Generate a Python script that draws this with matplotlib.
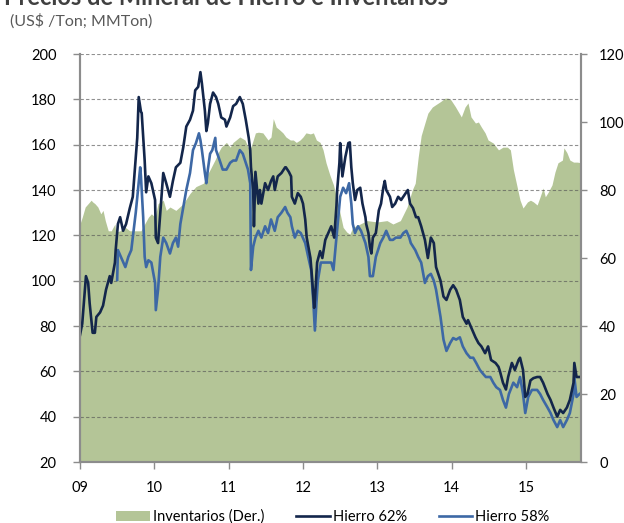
import matplotlib
matplotlib.use("Agg")
import matplotlib.pyplot as plt
from matplotlib.patches import Patch
from matplotlib.lines import Line2D
import numpy as np

plt.rcParams["font.family"] = ["Lato", "DejaVu Sans"]

# fractional years
hierro62_x = [2009.00, 2009.03, 2009.08, 2009.11, 2009.13, 2009.17, 2009.20, 2009.22, 2009.27, 2009.31,
              2009.35, 2009.40, 2009.42, 2009.47, 2009.48, 2009.51, 2009.54, 2009.58, 2009.62, 2009.67,
              2009.71, 2009.74, 2009.77, 2009.79, 2009.82, 2009.83, 2009.87, 2009.89, 2009.92, 2009.96,
              2010.01, 2010.02, 2010.05, 2010.09, 2010.12, 2010.16, 2010.21, 2010.25, 2010.29, 2010.35,
              2010.39, 2010.43, 2010.48, 2010.52, 2010.55, 2010.59, 2010.62, 2010.64, 2010.68, 2010.70,
              2010.72, 2010.75, 2010.79, 2010.83, 2010.86, 2010.90, 2010.95, 2010.97, 2011.02, 2011.06,
              2011.10, 2011.15, 2011.19, 2011.23, 2011.27, 2011.29, 2011.30, 2011.33, 2011.34, 2011.36,
              2011.40, 2011.42, 2011.44, 2011.49, 2011.53, 2011.57, 2011.60, 2011.62, 2011.66, 2011.71,
              2011.76, 2011.77, 2011.81, 2011.84, 2011.85, 2011.89, 2011.93, 2011.97, 2012.00, 2012.03,
              2012.05, 2012.10, 2012.12, 2012.15, 2012.16, 2012.19, 2012.23, 2012.26, 2012.30, 2012.34,
              2012.38, 2012.42, 2012.45, 2012.46, 2012.49, 2012.50, 2012.53, 2012.57, 2012.61, 2012.63,
              2012.65, 2012.67, 2012.70, 2012.73, 2012.77, 2012.80, 2012.84, 2012.85, 2012.88, 2012.90,
              2012.92, 2012.94, 2012.98, 2013.02, 2013.05, 2013.08, 2013.10, 2013.12, 2013.17, 2013.20,
              2013.24, 2013.28, 2013.32, 2013.37, 2013.41, 2013.44, 2013.48, 2013.52, 2013.55, 2013.59,
              2013.64, 2013.68, 2013.72, 2013.76, 2013.79, 2013.85, 2013.89, 2013.93, 2013.98, 2014.02,
              2014.06, 2014.11, 2014.15, 2014.20, 2014.22, 2014.26, 2014.32, 2014.36, 2014.40, 2014.45,
              2014.49, 2014.53, 2014.59, 2014.63, 2014.65, 2014.69, 2014.73, 2014.76, 2014.81, 2014.85,
              2014.90, 2014.92, 2014.96, 2014.99, 2015.02, 2015.06, 2015.10, 2015.15, 2015.19, 2015.23,
              2015.29, 2015.33, 2015.37, 2015.42, 2015.46, 2015.50, 2015.55, 2015.59, 2015.64, 2015.65,
              2015.68, 2015.72]
hierro62 = [76, 81, 102, 99, 90, 77, 77, 84, 86, 89,
            96, 102, 99, 108, 113.5, 125, 128, 122, 125, 132,
            137, 150, 163, 181, 174.5, 174, 153, 139, 146, 143,
            135.6, 119, 116.6, 134, 147.5, 143, 137, 144, 150, 152,
            159, 168, 171, 175, 184, 185.5, 192, 187, 175, 166,
            169.5, 178, 183, 181, 178, 172, 171, 168, 172, 177,
            178, 181, 178, 171, 163, 157.6, 150, 140, 124, 148,
            134, 140, 134, 143, 140, 144, 146, 140, 146, 147.5,
            150, 150, 148, 146, 137, 134, 138.6, 137, 134, 127,
            119, 110, 102, 88, 91.5, 108, 113, 110, 118, 121,
            124, 119, 133, 140, 152, 160.7, 146, 154.6, 160.7, 161,
            150, 143, 135.6, 140, 141, 134, 128, 125, 121, 115,
            112, 119, 121, 131, 134, 141, 144, 140, 137, 132.5,
            134, 137, 135.6, 138, 140, 134, 132, 128, 128, 124,
            118, 110, 119, 116.6, 106, 100, 93, 91.5, 96, 98,
            96, 91.5, 84, 81, 82.6, 79.6, 75, 72.5, 71, 68,
            71, 65, 63.7, 62, 60, 55, 52, 57.5, 63.7, 60.6,
            65, 66, 60.6, 48.7, 50, 56, 57, 57.5, 57.5, 55,
            50, 47.4, 44, 40, 43, 41.6, 44, 47.4, 55, 63.7,
            57.5, 57.5]

hierro58_x = [2009.50, 2009.51, 2009.55, 2009.61, 2009.65, 2009.69, 2009.71, 2009.75, 2009.78, 2009.81,
              2009.82, 2009.85, 2009.87, 2009.89, 2009.92, 2009.96, 2010.01, 2010.02, 2010.05, 2010.08,
              2010.12, 2010.16, 2010.21, 2010.25, 2010.29, 2010.32, 2010.35, 2010.39, 2010.43, 2010.48,
              2010.52, 2010.56, 2010.60, 2010.62, 2010.64, 2010.68, 2010.70, 2010.72, 2010.75, 2010.78,
              2010.82, 2010.83, 2010.88, 2010.92, 2010.97, 2011.02, 2011.06, 2011.10, 2011.15, 2011.19,
              2011.23, 2011.26, 2011.29, 2011.30, 2011.33, 2011.36, 2011.40, 2011.44, 2011.49, 2011.53,
              2011.57, 2011.62, 2011.66, 2011.71, 2011.76, 2011.79, 2011.83, 2011.85, 2011.89, 2011.93,
              2011.97, 2012.03, 2012.07, 2012.11, 2012.14, 2012.16, 2012.18, 2012.20, 2012.24, 2012.30,
              2012.34, 2012.38, 2012.41, 2012.45, 2012.50, 2012.54, 2012.58, 2012.62, 2012.65, 2012.67,
              2012.70, 2012.74, 2012.78, 2012.84, 2012.88, 2012.90, 2012.94, 2012.98, 2013.04, 2013.08,
              2013.12, 2013.17, 2013.21, 2013.25, 2013.31, 2013.35, 2013.39, 2013.43, 2013.45, 2013.51,
              2013.55, 2013.59, 2013.64, 2013.68, 2013.72, 2013.76, 2013.79, 2013.85, 2013.89, 2013.93,
              2013.98, 2014.02, 2014.06, 2014.11, 2014.15, 2014.20, 2014.25, 2014.29, 2014.33, 2014.38,
              2014.42, 2014.46, 2014.52, 2014.56, 2014.60, 2014.65, 2014.69, 2014.73, 2014.77, 2014.83,
              2014.88, 2014.92, 2014.96, 2014.99, 2015.03, 2015.08, 2015.15, 2015.19, 2015.23, 2015.29,
              2015.33, 2015.37, 2015.42, 2015.46, 2015.50, 2015.55, 2015.59, 2015.64, 2015.65, 2015.68,
              2015.72]
hierro58 = [100.3, 113.5, 110.5, 106, 110.5, 113.5, 119, 130, 140, 150,
            146, 128, 110.5, 106, 109, 108, 99, 87, 96, 110.5,
            119, 116.6, 112, 116.6, 119, 115, 125, 132.5, 140, 147.5,
            157.6, 160.7, 165, 162, 157.6, 147.5, 143, 149, 156, 157.6,
            163, 157.6, 153, 149, 149, 152, 153, 153, 157.6, 156,
            152, 149, 143, 104.7, 115, 119, 122, 119, 124, 121,
            127, 122, 128, 130, 132.5, 130, 128, 124, 119, 122,
            121, 116.6, 110.5, 104.7, 90, 78, 90, 100, 108, 108,
            108, 108, 104.7, 119, 137, 141, 138.6, 143, 134, 125,
            121, 124, 122, 116.6, 110.5, 102, 102, 110.5, 116.6, 119,
            122, 118, 118, 119, 119, 121, 122, 119, 116.6, 113.5,
            110.5, 108, 99, 102, 103, 100, 96, 84, 74, 69,
            72.5, 74.7, 74, 75, 71, 68, 66, 66, 63.7, 60.6,
            59, 57.5, 57.5, 55, 53, 51.8, 47.4, 44, 50, 55,
            53, 57.5, 50, 41.6, 48.7, 51.8, 51.8, 50, 47.4, 44,
            41.6, 38.5, 35.4, 38.5, 35.4, 38.5, 41.6, 50, 57.5, 48.7,
            50]

inv_x = [2009.00, 2009.03, 2009.07, 2009.11, 2009.15, 2009.17, 2009.20, 2009.24, 2009.28, 2009.31,
         2009.34, 2009.38, 2009.42, 2009.47, 2009.48, 2009.54, 2009.61, 2009.67, 2009.74, 2009.78,
         2009.82, 2009.87, 2009.92, 2009.96, 2010.01, 2010.05, 2010.12, 2010.16, 2010.21, 2010.29,
         2010.39, 2010.48, 2010.56, 2010.66, 2010.70, 2010.75, 2010.82, 2010.86, 2010.90, 2010.97,
         2011.02, 2011.06, 2011.10, 2011.15, 2011.22, 2011.26, 2011.30, 2011.36, 2011.40, 2011.46,
         2011.53, 2011.57, 2011.60, 2011.64, 2011.69, 2011.73, 2011.77, 2011.83, 2011.87, 2011.91,
         2011.96, 2012.00, 2012.04, 2012.10, 2012.14, 2012.18, 2012.23, 2012.27, 2012.31, 2012.36,
         2012.41, 2012.46, 2012.50, 2012.54, 2012.59, 2012.63, 2012.67, 2012.77, 2012.86, 2013.00,
         2013.13, 2013.21, 2013.31, 2013.40, 2013.47, 2013.51, 2013.55, 2013.59, 2013.64, 2013.68,
         2013.74, 2013.78, 2013.85, 2013.91, 2013.95, 2013.99, 2014.05, 2014.09, 2014.13, 2014.18,
         2014.22, 2014.26, 2014.32, 2014.36, 2014.40, 2014.45, 2014.49, 2014.56, 2014.63, 2014.69,
         2014.75, 2014.79, 2014.83, 2014.88, 2014.92, 2014.96, 2015.02, 2015.06, 2015.10, 2015.15,
         2015.19, 2015.23, 2015.26, 2015.30, 2015.35, 2015.39, 2015.43, 2015.49, 2015.51, 2015.55,
         2015.59, 2015.64, 2015.69, 2015.74]
inventarios = [70, 72, 75, 76, 77, 76.5, 76, 75, 73, 74,
               71, 68, 68, 70, 67.6, 68, 69, 68, 68, 68,
               68, 70, 72, 73, 72, 76, 77, 74, 75, 74,
               76, 79, 81, 82, 84, 86, 89, 91, 92.6, 94,
               92.6, 94, 94.7, 95.6, 94.7, 92.6, 92.6, 96.8, 97, 96.8,
               94.7, 95.6, 101, 98.5, 97.6, 96.8, 95.6, 94.7, 94.7, 94,
               94.7, 95.6, 96.8, 96.5, 96.8, 94.7, 94, 91.8, 88, 84.5,
               81.5, 77, 73, 69, 67.6, 67, 69, 70, 71, 70.6,
               71, 70, 71, 75, 80, 82, 89.7, 96, 99.7, 102.6,
               104.4, 105, 106, 107, 107, 106.5, 104.5, 103, 101.5, 104.4,
               105.6, 101.5, 99.7, 100, 98.5, 96.8, 94.7, 93.8, 91.8, 92.6,
               92.6, 91.8, 86, 81, 77, 74.7, 76.5, 77, 76.5, 75.6,
               78, 80.6, 78, 79.4, 81.5, 85.3, 88, 88.8, 92.4, 91,
               88.8, 88.2, 88.2, 88]

years = [2009, 2010, 2011, 2012, 2013, 2014, 2015]
year_labels = ['09', '10', '11', '12', '13', '14', '15']

green = '#B4C597'
navy = '#13264B'
blue = '#3D68A5'
axis_gray = '#8C8C8C'

fig = plt.figure(figsize=(6.24, 5.23), dpi=100)
ax = fig.add_axes([80/624, 1 - 462/523, 501/624, 408/523])
ax2 = ax.twinx()

ax2.fill_between(inv_x, 0, inventarios, color=green, linewidth=0)
ax2.set_ylim(0, 120)
ax2.set_yticks(range(0, 121, 20))

ax.set_zorder(ax2.get_zorder() + 1)
ax.patch.set_visible(False)

ax.plot(hierro58_x, hierro58, color=blue, lw=1.9)
ax.plot(hierro62_x, hierro62, color=navy, lw=1.9)

ax.set_ylim(20, 200)
ax.set_yticks(range(20, 201, 20))
ax.set_xlim(2009, 2015.74)
ax.set_xticks(years)
ax.set_xticklabels(year_labels)

for y in range(40, 201, 20):
    ax.axhline(y, color='#555555', lw=0.8, ls=(0, (3, 2)), alpha=0.65, zorder=0.5)

for a in (ax, ax2):
    a.spines['top'].set_visible(False)
    for s in ('left', 'right', 'bottom'):
        a.spines[s].set_color(axis_gray)
        a.spines[s].set_linewidth(1.5)
    a.tick_params(colors='black', labelsize=10.5, length=5, width=1, color=axis_gray)
ax.tick_params(axis='y', pad=12)
ax2.tick_params(axis='y', pad=9, length=4)
ax.tick_params(axis='x', pad=9)

fig.text(4/624, 1 - 5/523, 'Precios de Mineral de Hierro e Inventarios', fontsize=17,
         fontweight='bold', color='#404040', va='baseline')
fig.text(10/624, 1 - 21/523, '(US$ /Ton; MMTon)', fontsize=11.5, color='#595959', va='center')

handles = [Patch(facecolor=green, edgecolor='none'),
           Line2D([], [], color=navy, lw=1.9),
           Line2D([], [], color=blue, lw=1.9)]
fig.legend(handles, ['Inventarios (Der.)', 'Hierro 62%', 'Hierro 58%'], loc='center',
           bbox_to_anchor=(333/624, 1 - 517/523), ncol=3, frameon=False, fontsize=10.5,
           handlelength=2.3, handletextpad=0.2, columnspacing=2.2, borderaxespad=0)

fig.savefig('out.png', dpi=100)
